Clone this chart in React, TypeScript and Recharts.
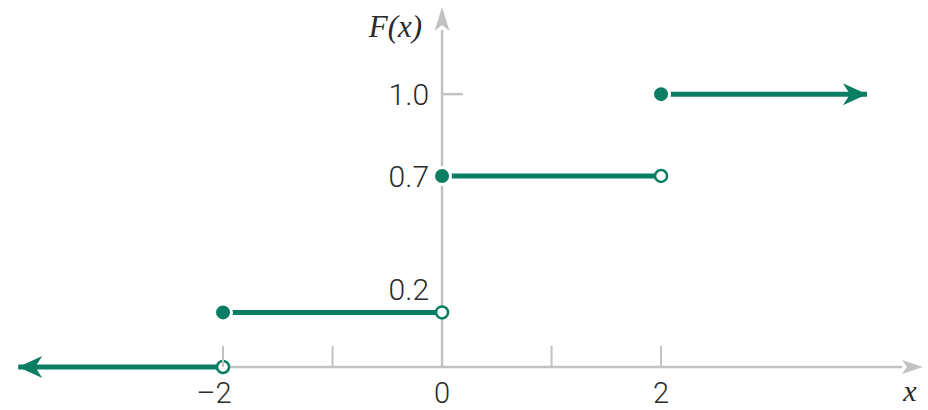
import React from 'react';
import { LineChart, Line, XAxis, YAxis, ReferenceLine, ReferenceDot, Label } from 'recharts';

const GREEN = '#0a7e62';
const GRAY = '#c2c2c2';
const TEXT = '#2b2b2b';
const LABEL_FONT = 'Roboto, "Liberation Sans", sans-serif';
const MATH_FONT = '"Liberation Serif", "DejaVu Serif", serif';

const X_MIN = -4;
const X_MAX = 4.2;
const AXIS_START = -3.8;
const Y_MAX = 1.235;

const xTicks = [-2, -1, 0, 1, 2];
const xTickLabels = ['\u20132', '', '0', '', '2'];
const yTicks = [0.2, 0.7, 1.0];
const yTickLabels = ['0.2', '0.7', '1.0'];
// 0.2 sits above its step so it does not crowd the open circle
const yLabelShift = [-23, 0, 0];

// one array per flat piece of F(x); kind says how that end is drawn
const leftTail = [
  { x: -3.87, y: 0, kind: 'arrowLeft' },
  { x: -2, y: 0, kind: 'open' },
];
const stepOne = [
  { x: -2, y: 0.2, kind: 'closed' },
  { x: 0, y: 0.2, kind: 'open' },
];
const stepTwo = [
  { x: 0, y: 0.7, kind: 'closed' },
  { x: 2, y: 0.7, kind: 'open' },
];
const rightTail = [
  { x: 2, y: 1.0, kind: 'closed' },
  { x: 3.88, y: 1.0, kind: 'arrowRight' },
];
const pieces = [leftTail, stepOne, stepTwo, rightTail];

const renderEnd = (props: any) => {
  const { cx, cy, payload, index } = props;
  const key = `end-${index}-${payload.x}-${payload.y}`;
  if (payload.kind === 'open') {
    return <circle key={key} cx={cx} cy={cy} r={6} fill="#fff" stroke={GREEN} strokeWidth={2.5} />;
  }
  if (payload.kind === 'closed') {
    return <circle key={key} cx={cx} cy={cy} r={8.5} fill={GREEN} stroke="#fff" strokeWidth={3} />;
  }
  if (payload.kind === 'arrowRight') {
    return (
      <path
        key={key}
        d={`M${cx},${cy} L${cx - 24},${cy - 11} L${cx - 17},${cy} L${cx - 24},${cy + 11} Z`}
        fill={GREEN}
      />
    );
  }
  if (payload.kind === 'arrowLeft') {
    return (
      <path
        key={key}
        d={`M${cx},${cy} L${cx + 24},${cy - 11} L${cx + 17},${cy} L${cx + 24},${cy + 11} Z`}
        fill={GREEN}
      />
    );
  }
  return <g key={key} />;
};

const XTick = (props: any) => {
  const { x, y, payload, index } = props;
  return (
    <g>
      {payload.value !== 0 && <line x1={x} x2={x} y1={y} y2={y - 21} stroke={GRAY} strokeWidth={2} />}
      <text
        x={x - (payload.value < 0 ? 9 : 0)}
        y={y + 36}
        textAnchor="middle"
        fontFamily={LABEL_FONT}
        fontWeight={300}
        fontSize={29}
        fill={TEXT}
      >
        {xTickLabels[index] ?? ''}
      </text>
    </g>
  );
};

export default function App() {
  return (
    <div style={{ position: 'absolute', left: 0, top: 0, width: 928, height: 410, background: '#fff' }}>
      <LineChart width={928} height={410} margin={{ top: 30, right: 26, left: 4, bottom: 0 }}>
        <XAxis
          dataKey="x"
          type="number"
          domain={[X_MIN, X_MAX]}
          ticks={xTicks}
          interval={0}
          height={43}
          axisLine={false}
          tickLine={false}
          tickSize={0}
          tickMargin={0}
          tick={<XTick />}
        >
          <Label
            content={(p: any) => {
              const vb = p.viewBox;
              return (
                <text
                  x={vb.x + vb.width + 8}
                  y={vb.y + 34}
                  textAnchor="middle"
                  fontFamily={MATH_FONT}
                  fontStyle="italic"
                  fontSize={30}
                  fill={TEXT}
                >
                  x
                </text>
              );
            }}
          />
        </XAxis>
        <YAxis type="number" domain={[0, Y_MAX]} hide />

        <ReferenceLine segment={[{ x: AXIS_START, y: 0 }, { x: X_MAX, y: 0 }]} stroke={GRAY} strokeWidth={2.5} />
        <ReferenceLine x={0} stroke={GRAY} strokeWidth={2.5} />
        <ReferenceLine segment={[{ x: 0, y: 1.0 }, { x: 0.19, y: 1.0 }]} stroke={GRAY} strokeWidth={2.5} />
        <ReferenceDot
          x={X_MAX}
          y={0}
          r={0}
          shape={(p: any) => (
            <path
              d={`M${p.cx + 21},${p.cy} L${p.cx},${p.cy - 7} L${p.cx + 5},${p.cy} L${p.cx},${p.cy + 7} Z`}
              fill={GRAY}
            />
          )}
        />
        <ReferenceDot
          x={0}
          y={Y_MAX}
          r={0}
          shape={(p: any) => (
            <g>
              <path
                d={`M${p.cx},${p.cy - 23} L${p.cx - 7.5},${p.cy + 1} L${p.cx},${p.cy - 5} L${p.cx + 7.5},${p.cy + 1} Z`}
                fill={GRAY}
              />
              <text
                x={p.cx - 20}
                y={p.cy + 7}
                textAnchor="end"
                fontFamily={MATH_FONT}
                fontStyle="italic"
                fontSize={31}
                fill={TEXT}
              >
                F(x)
              </text>
            </g>
          )}
        />
        {yTicks.map((v, i) => (
          <ReferenceDot
            key={v}
            x={0}
            y={v}
            r={0}
            shape={(p: any) => (
              <text
                x={p.cx - 13}
                y={p.cy + yLabelShift[i] + 11}
                textAnchor="end"
                fontFamily={LABEL_FONT}
                fontWeight={300}
                fontSize={30}
                fill={TEXT}
              >
                {yTickLabels[i]}
              </text>
            )}
          />
        ))}

        {pieces.map((seg, i) => (
          <Line
            key={i}
            data={seg}
            dataKey="y"
            type="linear"
            stroke={GREEN}
            strokeWidth={5}
            dot={renderEnd}
            activeDot={false}
            isAnimationActive={false}
          />
        ))}
      </LineChart>
    </div>
  );
}
